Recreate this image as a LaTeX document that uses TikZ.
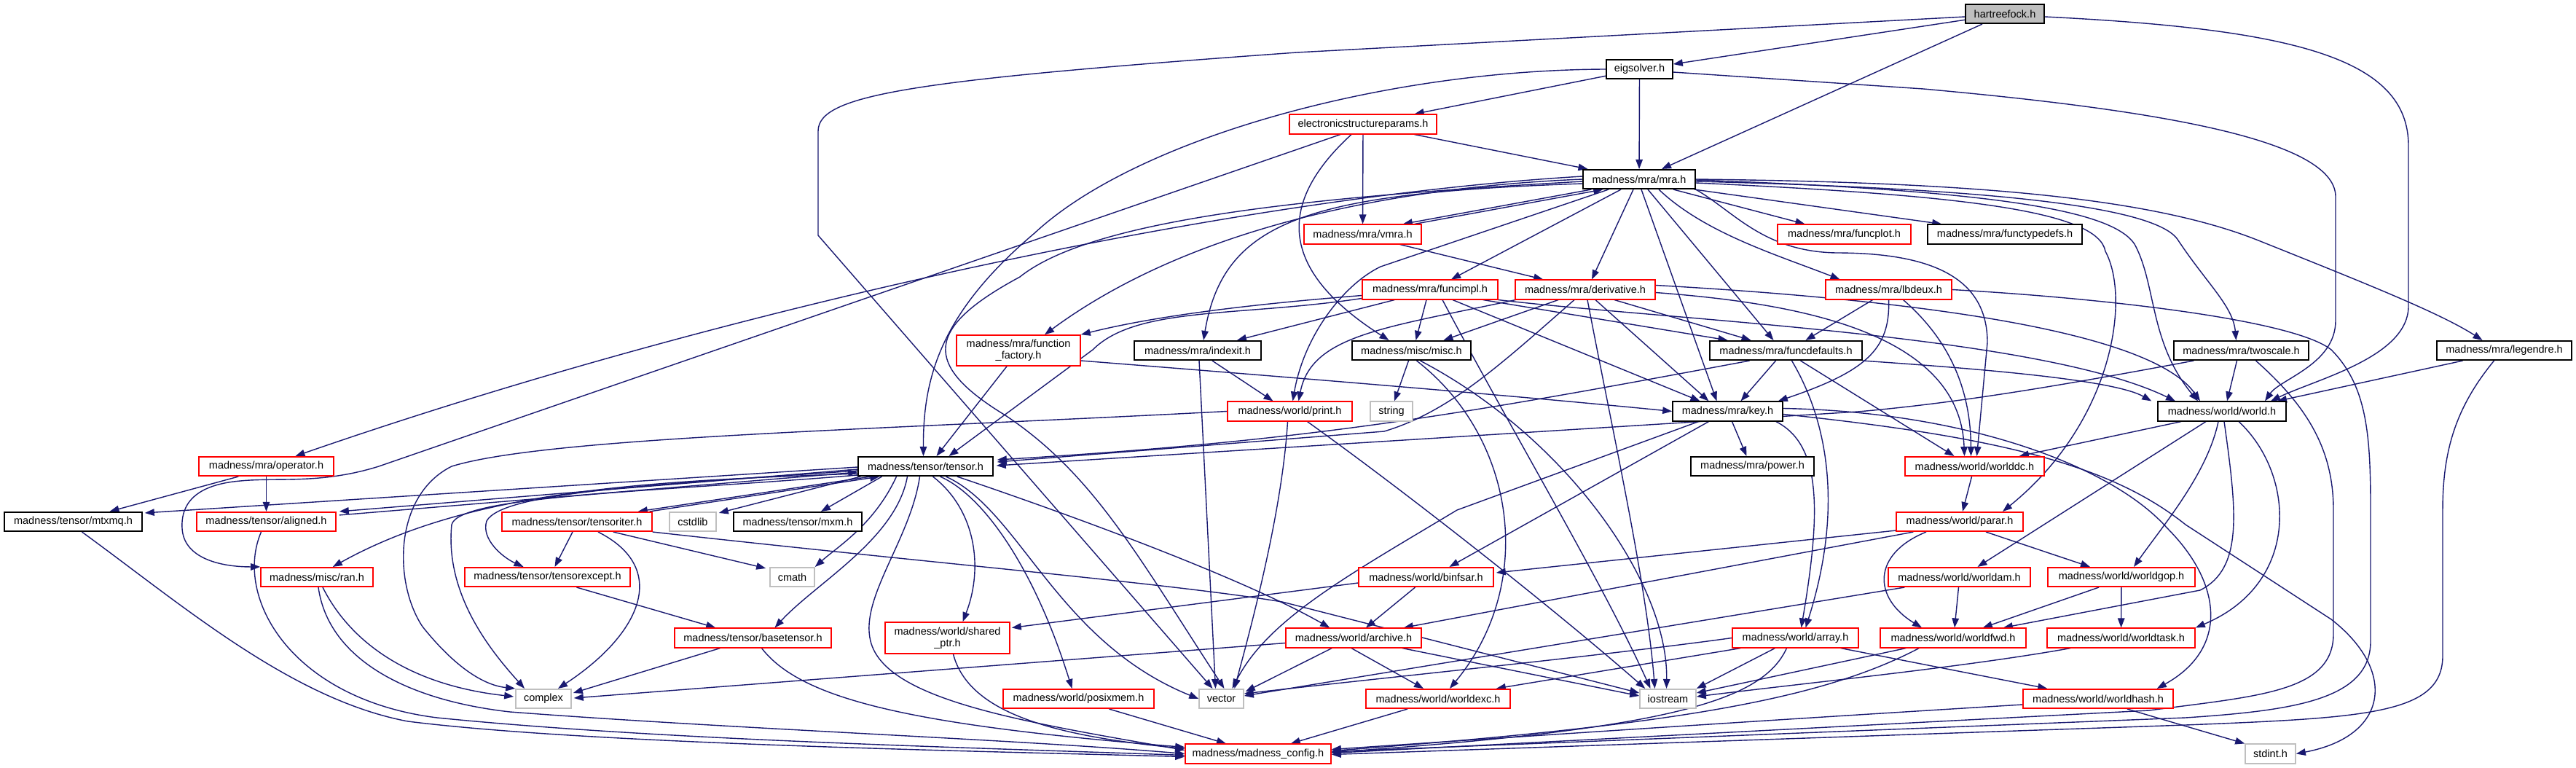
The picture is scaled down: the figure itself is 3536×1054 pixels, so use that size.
\documentclass[tikz,border=0pt]{standalone}
\usepackage{fontspec}
\setmainfont{Liberation Sans}
\usetikzlibrary{arrows.meta,calc,backgrounds}
\definecolor{edgec}{HTML}{191970}
\definecolor{redb}{HTML}{FF0000}
\definecolor{grayb}{HTML}{BFBFBF}
\begin{document}
\begin{tikzpicture}[x=1pt,y=-1pt,
  nb/.style={draw=black,line width=1.6pt,fill=white,minimum height=26.5pt,inner sep=0pt,font=\fontsize{14.5}{16}\selectfont,text=black},
  rb/.style={nb,draw=redb},
  gb/.style={nb,draw=grayb},
  conn/.style={draw=edgec,line width=1.4pt,-{Triangle[length=13pt,width=9.5pt]}}]
\useasboundingbox (0,0) rectangle (3536,1054);
% nodes
\node[nb,fill=grayb,minimum width=108pt] (hf) at (2752,19) {hartreefock.h};
\node[nb,minimum width=91pt] (eig) at (2250.5,95) {eigsolver.h};
\node[rb,minimum width=202pt] (esp) at (1871,170.5) {electronicstructureparams.h};
\node[nb,minimum width=154pt] (mra) at (2250,246) {madness/mra/mra.h};
\node[rb,minimum width=161pt] (vmra) at (1870.5,321.5) {madness/mra/vmra.h};
\node[rb,minimum width=183pt] (fplot) at (2531.5,321.5) {madness/mra/funcplot.h};
\node[nb,minimum width=212pt] (ftd) at (2752,321.5) {madness/mra/functypedefs.h};
\node[rb,minimum width=186pt] (fimpl) at (1963,397.5) {madness/mra/funcimpl.h};
\node[rb,minimum width=192pt] (deriv) at (2176,397.5) {madness/mra/derivative.h};
\node[rb,minimum width=173pt] (lbd) at (2592.5,397.5) {madness/mra/lbdeux.h};
\node[rb,minimum width=170pt,minimum height=42pt,align=center] (ffac) at (1398,481) {madness/mra/function\\\_factory.h};
\node[nb,minimum width=174pt] (idx) at (1644,481) {madness/mra/indexit.h};
\node[nb,minimum width=163pt] (misc) at (1937.5,481) {madness/misc/misc.h};
\node[nb,minimum width=209pt] (fdef) at (2451.5,481) {madness/mra/funcdefaults.h};
\node[nb,minimum width=185pt] (twos) at (3076.5,481) {madness/mra/twoscale.h};
\node[nb,minimum width=185pt] (leg) at (3437.5,481) {madness/mra/legendre.h};
\node[nb,minimum width=176pt] (world) at (3050,564.5) {madness/world/world.h};
\node[nb,minimum width=151pt] (key) at (2371.5,564.5) {madness/mra/key.h};
\node[gb,minimum width=58pt] (string) at (1910,564.5) {string};
\node[rb,minimum width=171pt] (print) at (1770.5,564.5) {madness/world/print.h};
\node[rb,minimum width=185pt] (oper) at (365.5,640) {madness/mra/operator.h};
\node[nb,minimum width=185pt] (tensor) at (1270.5,640) {madness/tensor/tensor.h};
\node[nb,minimum width=169pt] (power) at (2405.5,640) {madness/mra/power.h};
\node[rb,minimum width=191pt] (wdc) at (2710.5,640) {madness/world/worlddc.h};
\node[nb,minimum width=189pt] (mtxmq) at (100.5,716) {madness/tensor/mtxmq.h};
\node[rb,minimum width=191pt] (aligned) at (365.5,716) {madness/tensor/aligned.h};
\node[rb,minimum width=206pt] (titer) at (792,716) {madness/tensor/tensoriter.h};
\node[gb,minimum width=64pt] (cstdlib) at (951,716) {cstdlib};
\node[nb,minimum width=176pt] (mxm) at (1095,716) {madness/tensor/mxm.h};
\node[rb,minimum width=174pt] (parar) at (2690,716) {madness/world/parar.h};
\node[rb,minimum width=154pt] (ran) at (435,792) {madness/misc/ran.h};
\node[rb,minimum width=227pt] (texc) at (751.5,792) {madness/tensor/tensorexcept.h};
\node[gb,minimum width=61pt] (cmath) at (1087.5,792) {cmath};
\node[rb,minimum width=185pt] (binfsar) at (1957.5,792) {madness/world/binfsar.h};
\node[rb,minimum width=195pt] (wam) at (2689.5,792) {madness/world/worldam.h};
\node[rb,minimum width=202pt] (wgop) at (2912,792) {madness/world/worldgop.h};
\node[rb,minimum width=215pt] (btensor) at (1033.5,875.5) {madness/tensor/basetensor.h};
\node[rb,minimum width=171pt,minimum height=43pt,align=center] (sptr) at (1300.5,875.5) {madness/world/shared\\\_ptr.h};
\node[rb,minimum width=186pt] (archive) at (1858,875.5) {madness/world/archive.h};
\node[rb,minimum width=173pt] (array) at (2464.5,875.5) {madness/world/array.h};
\node[rb,minimum width=200pt] (wfwd) at (2681,875.5) {madness/world/worldfwd.h};
\node[rb,minimum width=203pt] (wtask) at (2911.5,875.5) {madness/world/worldtask.h};
\node[gb,minimum width=76pt] (complex) at (746,959) {complex};
\node[rb,minimum width=207pt] (posix) at (1480.5,959) {madness/world/posixmem.h};
\node[gb,minimum width=61pt] (vector) at (1676.5,959) {vector};
\node[rb,minimum width=198pt] (wexc) at (1974,959) {madness/world/worldexc.h};
\node[gb,minimum width=77pt] (iostream) at (2289.5,959) {iostream};
\node[rb,minimum width=206pt] (whash) at (2880,959) {madness/world/worldhash.h};
\node[rb,minimum width=200pt] (config) at (1727,1034.5) {madness/madness\_config.h};
\node[gb,minimum width=69pt] (stdint) at (3116.5,1034.5) {stdint.h};
\begin{scope}[on background layer]
% hartreefock
\draw[conn] (hf) -- (eig);
\draw[conn] (hf) -- (mra);
\draw[conn] ($(hf.west)+(0,4)$) -- (1780,72) .. controls (1250,110) and (1123,130) .. (1123,180) -- (1123,323) -- ($(vector.north)+(-12,0)$);
\draw[conn] ($(hf.east)+(0,4)$) .. controls (3150,40) and (3306,80) .. (3306,200) -- (3306,420) .. controls (3306,490) and (3180,520) .. ($(world.north)+(67,0)$);
% eigsolver
\draw[conn] (eig) -- (esp);
\draw[conn] (eig) -- (mra);
\draw[conn] (eig.west) .. controls (1900,96) and (1560,190) .. (1420,320) .. controls (1290,430) and (1267,520) .. ($(tensor.north)+(-3,0)$);
\draw[conn] ($(eig.east)+(0,4)$) -- (2640,122) .. controls (2950,150) and (3206,190) .. (3206,270) -- (3206,440) .. controls (3206,500) and (3130,520) .. ($(world.north)+(59,0)$);
% electronicstructureparams
\draw[conn] (esp) -- (mra);
\draw[conn] (esp) -- (vmra);
\draw[conn] ($(esp.south)+(-16,0)$) .. controls (1740,290) and (1770,380) .. ($(misc.north)+(-31,0)$);
\draw[conn] ($(esp.south)+(-31,0)$) -- (520,640) .. controls (440,665) and (380,655) .. (330,660) .. controls (270,665) and (248,690) .. (250,725) .. controls (252,765) and (300,778) .. (ran.north west);
% mra
\draw[conn] ($(mra.south west)+(12,0)$) -- ($(vmra.north east)+(-26,0)$);
\draw[conn] ($(vmra.north east)+(-10,0)$) -- ($(mra.south west)+(28,0)$);
\draw[conn] ($(mra.south)+(47,0)$) -- ($(fplot.north)+(-54,0)$);
\draw[conn] ($(mra.south east)+(-2,0)$) -- ($(ftd.north west)+(20,0)$);
\draw[conn] ($(mra.south)+(-25,0)$) -- ($(fimpl.north)+(29,0)$);
\draw[conn] ($(mra.south)+(-8,0)$) -- ($(deriv.north)+(9,0)$);
\draw[conn] ($(mra.south)+(27,0)$) .. controls (2340,320) and (2440,350) .. ($(lbd.north)+(-67,0)$);
\draw[conn] (mra.west) .. controls (1950,255) and (1650,300) .. ($(ffac.north)+(36,0)$);
\draw[conn] ($(mra.west)+(0,6)$) .. controls (1800,265) and (1680,300) .. ($(idx.north)+(8,0)$);
\draw[conn] ($(mra.west)+(0,-4)$) .. controls (1700,270) and (1000,420) .. ($(oper.north)+(40,0)$);
\draw[conn] ($(mra.west)+(0,3)$) .. controls (1800,270) and (1500,300) .. (1400,380) .. controls (1270,450) and (1265,500) .. (1380,570) .. controls (1500,650) and (1560,760) .. ($(vector.north)+(4,0)$);
\draw[conn] ($(mra.south)+(-42,0)$) -- (1895,366) .. controls (1845,390) and (1790,460) .. ($(print.north)+(4,0)$);
\draw[conn] ($(mra.south)+(3,0)$) -- ($(key.north)+(-15,0)$);
\draw[conn] ($(mra.south)+(12,0)$) -- ($(fdef.north)+(-17,0)$);
\draw[conn] ($(mra.east)+(0,3)$) .. controls (2700,258) and (2960,280) .. (2990,330) .. controls (3030,390) and (3065,420) .. ($(twos.north)+(-7,0)$);
\draw[conn] (mra.east) .. controls (2700,250) and (2950,270) .. (3100,330) .. controls (3250,390) and (3350,430) .. ($(leg.north)+(-30,0)$);
\draw[conn] ($(mra.east)+(0,1)$) .. controls (2750,262) and (2900,290) .. (2930,335) .. controls (2960,390) and (2950,470) .. ($(world.north)+(-33,0)$);
\draw[conn] ($(mra.east)+(0,5)$) .. controls (2700,268) and (2880,290) .. (2890,345) .. controls (2925,410) and (2900,580) .. ($(parar.north)+(59,0)$);
\draw[conn] (mra.south east) .. controls (2380,290) and (2420,345) .. (2520,347) .. controls (2650,347) and (2728,380) .. (2728,470) -- ($(wdc.north)+(3,0)$);
% funcimpl
\draw[conn] ($(fimpl.west)+(0,8)$) .. controls (1750,415) and (1600,430) .. (ffac.north east);
\draw[conn] ($(fimpl.west)+(0,12)$) .. controls (1700,435) and (1560,420) .. (1500,480) -- ($(tensor.north)+(32,0)$);
\draw[conn] ($(fimpl.south west)+(45,0)$) -- ($(idx.north)+(54,0)$);
\draw[conn] ($(fimpl.south)+(-5,0)$) -- ($(misc.north)+(6,0)$);
\draw[conn] ($(fimpl.south)+(31,0)$) -- ($(key.north)+(-38,0)$);
\draw[conn] ($(fimpl.south east)+(-21,0)$) -- ($(fdef.north)+(-80,0)$);
\draw[conn] (fimpl.south east) .. controls (2300,440) and (2800,460) .. ($(world.north)+(-64,0)$);
\draw[conn] ($(fimpl.south)+(17,0)$) .. controls (2080,600) and (2200,800) .. ($(iostream.north)+(-24,0)$);
% derivative
\draw[conn] ($(vmra.south east)+(-30,0)$) -- ($(deriv.north west)+(39,0)$);
\draw[conn] ($(deriv.south)+(-37,0)$) -- ($(misc.north)+(44,0)$);
\draw[conn] ($(deriv.south west)+(1,0)$) .. controls (1900,450) and (1800,460) .. ($(print.north)+(12,0)$);
\draw[conn] ($(deriv.south)+(14,0)$) -- ($(key.north)+(-26,0)$);
\draw[conn] ($(deriv.south)+(40,0)$) -- ($(fdef.north)+(-48,0)$);
\draw[conn] ($(deriv.south)+(-15,0)$) .. controls (2060,500) and (1990,565) .. (1900,592) -- ($(tensor.east)+(5,-6)$);
\draw[conn] ($(deriv.east)+(0,-6)$) .. controls (2600,410) and (2950,450) .. ($(world.north)+(-30,0)$);
\draw[conn] ($(deriv.east)+(0,4)$) .. controls (2450,415) and (2690,450) .. ($(wdc.north)+(-14,0)$);
\draw[conn] ($(deriv.south)+(3,0)$) .. controls (2215,600) and (2260,800) .. ($(iostream.north)+(-18,0)$);
% lbdeux
\draw[conn] ($(lbd.south)+(-22,0)$) -- ($(fdef.north)+(27,0)$);
\draw[conn] (lbd.south) .. controls (2595,480) and (2560,510) .. ($(key.north east)+(-7,0)$);
\draw[conn] ($(lbd.south)+(20,0)$) .. controls (2680,470) and (2705,540) .. ($(wdc.north)+(-5,0)$);
\draw[conn] (lbd.east) .. controls (2900,410) and (3150,440) .. (3200,480) .. controls (3250,530) and (3254,600) .. (3254,700) -- (3254,880) .. controls (3254,960) and (3150,975) .. (3000,985) -- ($(config.east)+(0,-3)$);
% twoscale
\draw[conn] ($(twos.south)+(-6,0)$) -- ($(world.north)+(7,0)$);
\draw[conn] ($(twos.south west)+(28,0)$) .. controls (2850,525) and (2700,552) .. (2550,565) -- ($(tensor.east)+(4,-1)$);
\draw[conn] ($(twos.south)+(20,0)$) .. controls (3170,560) and (3203,620) .. (3203,700) -- (3203,870) .. controls (3203,950) and (3100,955) .. (2950,975) -- ($(config.east)+(0,-1)$);
% legendre
\draw[conn] ($(leg.south)+(-57,0)$) -- ($(world.north)+(76,0)$);
\draw[conn] ($(leg.south)+(-14,0)$) .. controls (3370,560) and (3353,620) .. (3353,700) -- (3353,900) .. controls (3353,980) and (3250,985) .. (3000,995) -- ($(config.east)+(0,1)$);
% funcdefaults
\draw[conn] ($(fdef.south)+(-14,0)$) -- ($(key.north)+(18,0)$);
\draw[conn] ($(fdef.south)+(-50,0)$) .. controls (2000,570) and (1800,605) .. ($(tensor.east)+(5,-9)$);
\draw[conn] (fdef.south east) .. controls (2700,505) and (2900,520) .. ($(world.north west)+(-8,0)$);
\draw[conn] ($(fdef.south)+(20,0)$) -- ($(wdc.north)+(-28,0)$);
\draw[conn] ($(fdef.south)+(8,0)$) .. controls (2510,580) and (2530,700) .. ($(array.north)+(14,0)$);
% key
\draw[conn] ($(key.south)+(6,0)$) -- ($(power.north)+(-8,0)$);
\draw[conn] ($(key.south)+(-40,0)$) -- (2000,700) .. controls (1850,790) and (1740,850) .. ($(vector.north)+(15,0)$);
\draw[conn] ($(key.south)+(-26,0)$) -- ($(binfsar.north)+(32,0)$);
\draw[conn] ($(key.south east)+(-10,0)$) .. controls (2500,610) and (2500,700) .. ($(array.north)+(8,0)$);
\draw[conn] ($(key.east)+(0,-4)$) .. controls (2700,565) and (2900,640) .. (2975,725) .. controls (3050,800) and (3060,890) .. ($(whash.north east)+(-23,0)$);
\draw[conn] ($(key.east)+(0,4)$) .. controls (2750,600) and (2900,640) .. (3000,720) -- (3200,850) .. controls (3290,920) and (3280,1010) .. (stdint.east);
% misc
\draw[conn] ($(misc.south)+(-4,0)$) -- ($(string.north)+(4,0)$);
\draw[conn] ($(misc.south)+(7,0)$) .. controls (2080,600) and (2110,800) .. ($(wexc.north)+(16,0)$);
\draw[conn] ($(misc.south)+(12,0)$) .. controls (2150,600) and (2290,800) .. ($(iostream.north)+(-2,0)$);
% indexit
\draw[conn] ($(idx.south)+(20,0)$) -- ($(print.north)+(-23,0)$);
\draw[conn] ($(idx.south)+(2,0)$) -- ($(vector.north)+(-8,0)$);
% function_factory
\draw[conn] ($(ffac.south)+(-16,0)$) -- ($(tensor.north)+(15,0)$);
\draw[conn] ($(ffac.east)+(0,14)$) .. controls (1800,520) and (2100,545) .. (key.west);
% print
\draw[conn] ($(print.south)+(-3,0)$) .. controls (1760,700) and (1720,850) .. ($(vector.north)+(18,0)$);
\draw[conn] ($(print.south)+(24,0)$) .. controls (1950,690) and (2150,850) .. ($(iostream.north west)+(8,0)$);
\draw[conn] (print.west) .. controls (1200,590) and (750,600) .. (620,640) .. controls (540,680) and (540,800) .. (580,860) .. controls (620,910) and (660,940) .. (complex.north west);
% operator
\draw[conn] ($(oper.south west)+(55,0)$) -- ($(mtxmq.north)+(50,0)$);
\draw[conn] (oper) -- (aligned);
% tensor
\draw[conn] ($(tensor.west)+(0,1)$) -- ($(mtxmq.north east)+(3,2)$);
\draw[conn] ($(tensor.west)+(0,4)$) -- ($(aligned.north east)+(4,0)$);
\draw[conn] ($(aligned.north east)+(4,5)$) -- ($(tensor.west)+(0,8)$);
\draw[conn] ($(tensor.west)+(0,10)$) .. controls (900,660) and (650,670) .. ($(ran.north east)+(-56,0)$);
\draw[conn] ($(tensor.west)+(0,6)$) .. controls (900,665) and (690,675) .. (668,715) .. controls (660,740) and (690,765) .. ($(texc.north)+(-33,0)$);
\draw[conn] ($(tensor.west)+(0,12)$) .. controls (900,675) and (630,680) .. (620,720) .. controls (610,820) and (680,900) .. ($(complex.north)+(-26,0)$);
\draw[conn] ($(tensor.south west)+(4,0)$) -- ($(cstdlib.north east)+(3,2)$);
\draw[conn] ($(tensor.south)+(-60,0)$) -- ($(mxm.north)+(32,0)$);
\draw[conn] ($(tensor.south)+(-40,0)$) .. controls (1200,720) and (1150,750) .. (cmath.north east);
\draw[conn] ($(tensor.south)+(-25,0)$) .. controls (1230,740) and (1120,800) .. ($(btensor.north)+(30,0)$);
\draw[conn] ($(tensor.south)+(-8,0)$) .. controls (1250,740) and (1180,820) .. (1195,880) .. controls (1215,960) and (1400,990) .. ($(config.west)+(0,-5)$);
\draw[conn] ($(tensor.south)+(10,0)$) .. controls (1340,700) and (1350,780) .. ($(sptr.north)+(21,0)$);
\draw[conn] ($(tensor.south)+(20,0)$) .. controls (1350,680) and (1420,780) .. ($(posix.north)+(-9,0)$);
\draw[conn] ($(tensor.south)+(28,0)$) .. controls (1400,700) and (1450,880) .. (vector.west);
\draw[conn] ($(tensor.south east)+(-50,0)$) .. controls (1450,700) and (1700,790) .. ($(archive.north west)+(61,0)$);
\draw[conn] ($(tensor.south west)+(18,0)$) -- ($(titer.north east)+(-20,0)$);
\draw[conn] ($(titer.north east)+(-4,0)$) -- ($(tensor.south west)+(30,0)$);
% tensoriter
\draw[conn] ($(titer.south)+(-6,0)$) -- ($(texc.north)+(10,0)$);
\draw[conn] ($(titer.south)+(29,0)$) .. controls (920,780) and (880,870) .. ($(complex.north)+(20,0)$);
\draw[conn] ($(titer.south east)+(-54,0)$) -- ($(cmath.north west)+(-5,2)$);
\draw[conn] (titer.south east) .. controls (1300,775) and (1600,800) .. (1760,826) -- ($(iostream.west)+(0,-8)$);
\draw[conn] ($(texc.south)+(40,0)$) -- ($(btensor.north west)+(57,0)$);
% basetensor etc
\draw[conn] ($(btensor.south)+(-45,0)$) -- ($(complex.east)+(2,-8)$);
\draw[conn] ($(btensor.south)+(12,0)$) .. controls (1100,960) and (1250,995) .. ($(config.west)+(0,-9)$);
\draw[conn] ($(sptr.south)+(8,0)$) .. controls (1330,980) and (1450,1010) .. ($(config.west)+(0,-7)$);
\draw[conn] ($(posix.south)+(42,0)$) -- ($(config.north)+(-44,0)$);
\draw[conn] ($(mtxmq.south)+(12,0)$) .. controls (250,830) and (400,960) .. (560,990) .. controls (800,1020) and (1300,1030) .. ($(config.west)+(0,4)$);
\draw[conn] ($(aligned.south)+(-7,0)$) .. controls (320,820) and (400,960) .. (600,985) .. controls (900,1015) and (1300,1025) .. ($(config.west)+(0,2)$);
\draw[conn] ($(ran.south)+(2,0)$) .. controls (450,900) and (550,960) .. (700,977) .. controls (1000,1000) and (1400,1015) .. (config.west);
\draw[conn] ($(ran.south)+(8,0)$) .. controls (480,880) and (560,940) .. ($(complex.west)+(-2,-3)$);
% binfsar
\draw[conn] ($(binfsar.south)+(-15,0)$) -- ($(archive.north)+(17,0)$);
\draw[conn] ($(binfsar.west)+(0,8)$) -- ($(sptr.east)+(2,-14)$);
% parar
\draw[conn] ($(parar.south west)+(0,-2)$) -- ($(binfsar.north east)+(3,8)$);
\draw[conn] ($(parar.south west)+(24,0)$) -- ($(archive.north east)+(-25,0)$);
\draw[conn] ($(parar.south)+(-46,0)$) .. controls (2570,760) and (2570,820) .. ($(wfwd.north)+(-43,0)$);
\draw[conn] ($(parar.south)+(36,0)$) -- ($(wgop.north)+(-43,0)$);
\draw[conn] ($(wdc.south)+(-4,0)$) -- ($(parar.north)+(4,0)$);
% world
\draw[conn] ($(world.south)+(-56,0)$) -- ($(wdc.north east)+(-35,0)$);
\draw[conn] ($(world.south)+(-22,0)$) -- ($(wam.north)+(25,0)$);
\draw[conn] ($(world.south)+(-5,0)$) .. controls (3030,650) and (2970,720) .. ($(wgop.north)+(17,0)$);
\draw[conn] ($(world.south)+(3,0)$) .. controls (3070,700) and (3080,780) .. (3020,810) -- ($(wfwd.north east)+(-32,0)$);
\draw[conn] ($(world.south)+(23,0)$) .. controls (3150,650) and (3160,800) .. (wtask.north east);
% worldam, worldgop, worldtask, worldfwd
\draw[conn] ($(wam.south)+(-1,0)$) -- ($(wfwd.north)+(2,0)$);
\draw[conn] ($(wam.south west)+(23,0)$) -- ($(vector.east)+(0,-4)$);
\draw[conn] ($(wgop.south)+(-31,0)$) -- ($(wfwd.north east)+(-60,0)$);
\draw[conn] (wgop) -- (wtask);
\draw[conn] ($(wtask.south west)+(33,0)$) .. controls (2700,915) and (2500,935) .. ($(iostream.east)+(0,-3)$);
\draw[conn] ($(wfwd.south west)+(36,0)$) -- ($(iostream.east)+(0,-8)$);
\draw[conn] ($(wfwd.south west)+(54,0)$) .. controls (2500,960) and (2300,995) .. ($(config.east)+(0,-4)$);
% array
\draw[conn] ($(array.south west)+(12,0)$) -- ($(wexc.north east)+(-20,0)$);
\draw[conn] ($(array.south)+(-28,0)$) -- (iostream.north east);
\draw[conn] ($(array.south)+(-12,0)$) .. controls (2420,960) and (2300,1000) .. ($(config.east)+(0,-2)$);
\draw[conn] (array.west) .. controls (2200,900) and (1900,930) .. ($(vector.east)+(0,-7)$);
\draw[conn] ($(array.south east)+(-25,0)$) -- ($(whash.north west)+(34,0)$);
% archive
\draw[conn] ($(archive.west)+(0,7)$) -- ($(complex.east)+(3,-1)$);
\draw[conn] ($(archive.south west)+(64,0)$) -- ($(vector.east)+(2,-10)$);
\draw[conn] ($(archive.south)+(-3,0)$) -- ($(wexc.north)+(-20,0)$);
\draw[conn] ($(archive.south east)+(-27,0)$) -- ($(iostream.west)+(0,-4)$);
% worldexc, worldhash
\draw[conn] ($(wexc.south)+(-42,0)$) -- ($(config.north east)+(-56,0)$);
\draw[conn] ($(whash.west)+(0,8)$) .. controls (2400,990) and (2100,1010) .. ($(config.east)+(0,-6)$);
\draw[conn] ($(whash.south)+(40,0)$) -- (stdint.north west);
\end{scope}
\end{tikzpicture}
\end{document}
